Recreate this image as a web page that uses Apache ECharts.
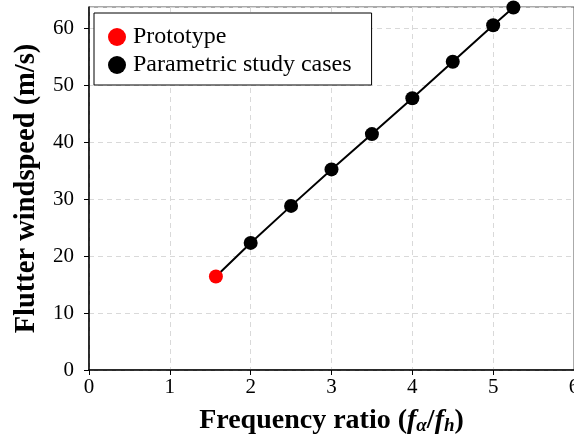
<!DOCTYPE html>
<html>
<head>
<meta charset="utf-8">
<script src="https://cdn.jsdelivr.net/npm/echarts@6/dist/echarts.min.js"></script>
<style>
  html, body { margin: 0; padding: 0; background: #fff; }
  #chart { width: 574px; height: 436px; }
</style>
</head>
<body>
<div id="chart"></div>
<script>
// Flutter windspeed against frequency ratio
const prototypeRatio = [1.57];
const prototypeSpeed = [16.4];
const studyRatios = [2, 2.5, 3, 3.5, 4, 4.5, 5, 5.25];
const studySpeeds = [22.3, 28.8, 35.2, 41.4, 47.7, 54.1, 60.5, 63.6];
const xTicks = [0, 1, 2, 3, 4, 5, 6];
const yTicks = [0, 10, 20, 30, 40, 50, 60];

const serif = '"Liberation Serif", "Times New Roman", serif';

const pair = (xs, ys) => xs.map((x, i) => [x, ys[i]]);
const protoPts = pair(prototypeRatio, prototypeSpeed);
const studyPts = pair(studyRatios, studySpeeds);
const allPts = protoPts.concat(studyPts);

const chart = echarts.init(document.getElementById('chart'), null, { renderer: 'canvas' });

chart.setOption({
  animation: false,
  backgroundColor: '#fff',
  grid: {
    left: 89, top: 7, right: 0, bottom: 66,
    outerBoundsMode: 'none',
    containLabel: false,
    show: true, borderColor: '#555', borderWidth: 1, backgroundColor: 'transparent'
  },
  legend: {
    orient: 'vertical',
    left: 94, top: 13,
    padding: [12, 20, 8, 14],
    itemGap: 4,
    itemWidth: 18, itemHeight: 18,
    borderColor: '#000', borderWidth: 1,
    backgroundColor: '#fff',
    textStyle: { fontFamily: serif, fontSize: 24, color: '#000', padding: [0, 0, 0, 2] },
    data: [
      { name: 'Prototype', icon: 'circle', itemStyle: { color: '#ff0000', opacity: 1 } },
      { name: 'Parametric study cases', icon: 'circle', itemStyle: { color: '#000', opacity: 1 } }
    ]
  },
  xAxis: {
    type: 'value',
    min: xTicks[0], max: xTicks[xTicks.length - 1], interval: 1,
    name: '{b|Frequency ratio (}{i|f}{s|α}{b|/}{i|f}{s|h}{b|)}',
    nameLocation: 'middle',
    nameGap: 31,
    nameTextStyle: {
      rich: {
        b: { fontFamily: serif, fontSize: 28, fontWeight: 'bold', color: '#000', lineHeight: 30 },
        i: { fontFamily: serif, fontSize: 28, fontWeight: 'bold', fontStyle: 'italic', color: '#000', lineHeight: 30 },
        s: { fontFamily: serif, fontSize: 19, fontWeight: 'bold', fontStyle: 'italic', color: '#000',
             verticalAlign: 'bottom', lineHeight: 12, padding: [14, 0, 0, 0] }
      }
    },
    axisLine: { lineStyle: { color: '#000', width: 1.5 } },
    axisTick: { show: true, length: 5, inside: false, lineStyle: { color: '#000' } },
    axisLabel: { fontFamily: serif, fontSize: 21, color: '#000', margin: 7 },
    splitLine: { show: true, lineStyle: { color: '#d9d9d9', type: [5, 4], width: 1 } }
  },
  yAxis: {
    type: 'value',
    min: yTicks[0], max: 63.7, interval: 10,
    name: 'Flutter windspeed (m/s)',
    nameLocation: 'middle',
    nameGap: 48,
    nameTextStyle: { fontFamily: serif, fontSize: 28.5, fontWeight: 'bold', color: '#000' },
    axisLine: { show: true, lineStyle: { color: '#000', width: 1.5 } },
    axisTick: { show: true, length: 5, inside: false, lineStyle: { color: '#000' } },
    axisLabel: {
      fontFamily: serif, fontSize: 21, color: '#000', margin: 15,
      showMaxLabel: false,
      formatter: v => (yTicks.indexOf(v) >= 0 ? String(v) : '')
    },
    splitLine: { show: true, lineStyle: { color: '#d9d9d9', type: [5, 4], width: 1 } }
  },
  series: [
    {
      name: 'trend',
      type: 'line',
      data: allPts,
      showSymbol: false,
      symbol: 'none',
      lineStyle: { color: '#000', width: 2 },
      z: 2
    },
    {
      name: 'Parametric study cases',
      type: 'scatter',
      data: studyPts,
      symbol: 'circle',
      symbolSize: 14,
      itemStyle: { color: '#000', opacity: 1 },
      clip: false,
      z: 3
    },
    {
      name: 'Prototype',
      type: 'scatter',
      data: protoPts,
      symbol: 'circle',
      symbolSize: 14,
      itemStyle: { color: '#ff0000', opacity: 1 },
      clip: false,
      z: 4
    }
  ]
});
</script>
</body>
</html>
